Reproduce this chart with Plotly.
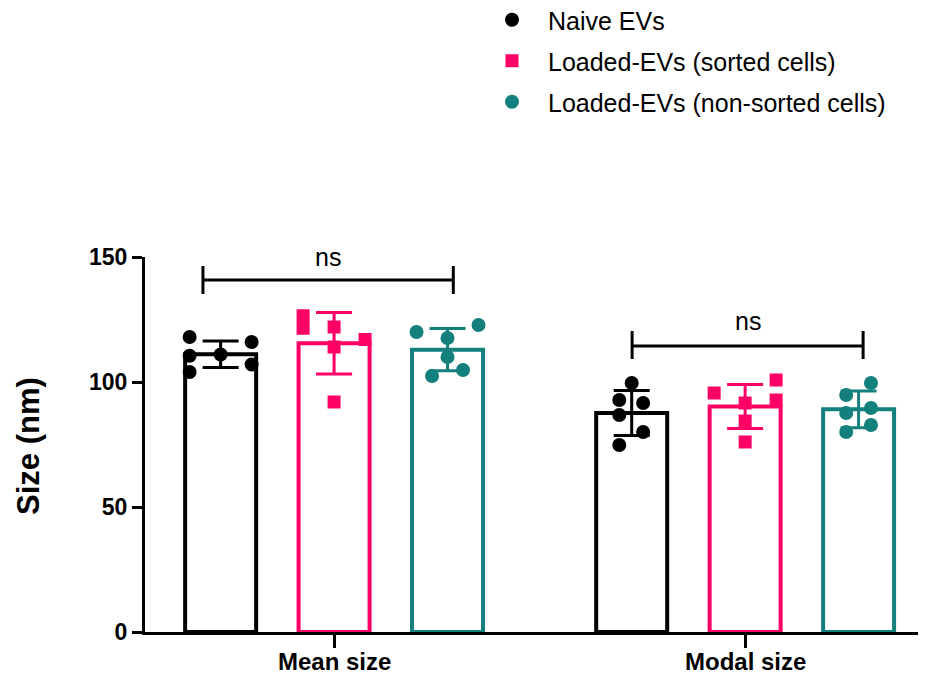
import numpy as np
import plotly.graph_objects as go

# ---------------- data ----------------
CATEGORIES = ["Mean size", "Modal size"]
SERIES = ["Naive EVs", "Loaded-EVs (sorted cells)", "Loaded-EVs (non-sorted cells)"]

naive_mean = [118, 110.5, 104, 111, 116, 107]
naive_modal = [99.6, 92.8, 91.6, 86.8, 80, 74.8]
sorted_mean = [126.5, 121.5, 122, 114, 92, 117]
sorted_modal = [95.6, 100.8, 92.8, 91.6, 84.4, 76]
nonsorted_mean = [120, 117.6, 110, 122.8, 102.4, 104.8]
nonsorted_modal = [99.6, 94.8, 89.6, 87.6, 82.8, 80]

Y_TICKS = [0, 50, 100, 150]
SIG_LABELS = ["ns", "ns"]
Y_TITLE = "Size (nm)"

# ---------------- layout / style constants ----------------
COLORS = ["#000000", "#FF0066", "#13807E"]
SYMBOLS = ["circle", "square", "circle"]
GROUP_STEP = 0.276      # distance between bars in a cluster (category units)
BAR_WIDTH = 0.1727
JIT_UNIT = 0.0754
JITTER = {
    (0, 0): [-1, -1, -1, 0, 1, 1],
    (0, 1): [0, -0.4, 0.37, -0.4, 0.37, -0.4],
    (1, 0): [-1, -1, 0, 0, 0, 1],
    (1, 1): [-1, 1, 1, 0, 0, 0],
    (2, 0): [-1, 0, 0, 1, -0.5, 0.5],
    (2, 1): [0.4, -0.4, 0.4, -0.4, 0.4, -0.4],
}
# bracket geometry: (x0, x1, y_line, y_tick_top, y_tick_bottom, label_y)
BRACKETS = [
    (-0.319, 0.290, 140.8, 146.4, 135.2, 150.2),
    (0.725, 1.287, 114.4, 120.4, 109.2, 124.4),
]
Y_RANGE = [0, 150]
FONT = "Arial, Liberation Sans, sans-serif"

# page has an 8px body margin: figure is sized so that it fills the 926x676 window
FIG_W, FIG_H = 918, 668
M_L, M_R, M_T, M_B = 137, 0, 249, 44
PLOT_W = FIG_W - M_L - M_R
PLOT_H = FIG_H - M_T - M_B

values = [
    [naive_mean, naive_modal],
    [sorted_mean, sorted_modal],
    [nonsorted_mean, nonsorted_modal],
]


def y_paper(v):
    return (v - Y_RANGE[0]) / (Y_RANGE[1] - Y_RANGE[0])


fig = go.Figure()

# bars with mean +/- SD
for g, name in enumerate(SERIES):
    xs = [c + (g - 1) * GROUP_STEP for c in range(len(CATEGORIES))]
    means = [float(np.mean(v)) for v in values[g]]
    sds = [float(np.std(v, ddof=1)) for v in values[g]]
    fig.add_trace(go.Bar(
        x=xs, y=means, width=BAR_WIDTH,
        marker=dict(color="white", line=dict(color=COLORS[g], width=4)),
        error_y=dict(type="data", array=sds, color=COLORS[g], thickness=3, width=18),
        showlegend=False, hoverinfo="skip",
    ))

# individual points
for g, name in enumerate(SERIES):
    px, py = [], []
    for c in range(len(CATEGORIES)):
        base = c + (g - 1) * GROUP_STEP
        for v, j in zip(values[g][c], JITTER[(g, c)]):
            px.append(base + j * JIT_UNIT)
            py.append(v)
    fig.add_trace(go.Scatter(
        x=px, y=py, mode="markers", name=name, legendgroup=name,
        marker=dict(color=COLORS[g], symbol=SYMBOLS[g], size=14 if SYMBOLS[g] == "circle" else 13,
                    line=dict(width=0)),
        cliponaxis=False,
    ))

# significance brackets
for (x0, x1, yl, yt, yb, ly), lab in zip(BRACKETS, SIG_LABELS):
    fig.add_trace(go.Scatter(
        x=[x0, x0, None, x0, x1, None, x1, x1],
        y=[yt, yb, None, yl, yl, None, yt, yb],
        mode="lines", line=dict(color="black", width=3),
        showlegend=False, hoverinfo="skip", cliponaxis=False,
    ))
    fig.add_annotation(x=(x0 + x1) / 2, yref="paper", y=y_paper(ly), text=lab, showarrow=False,
                       xanchor="center", yanchor="middle",
                       font=dict(family=FONT, size=25, color="black"))

# category labels
for c, cat in enumerate(CATEGORIES):
    fig.add_annotation(x=c, yref="paper", y=0, yshift=-29, text="<b>" + cat + "</b>",
                       showarrow=False, xanchor="center", yanchor="middle",
                       font=dict(family=FONT, size=24, color="black"))

# y title
fig.add_annotation(xref="paper", yref="paper", x=(20 - M_L) / PLOT_W, y=(M_T + PLOT_H - 438) / PLOT_H,
                   text="<b>" + Y_TITLE + "</b>", textangle=-90, showarrow=False,
                   xanchor="center", yanchor="middle",
                   font=dict(family=FONT, size=31, color="black"))

fig.update_layout(
    width=FIG_W, height=FIG_H,
    margin=dict(l=M_L, r=M_R, t=M_T, b=M_B, autoexpand=False),
    plot_bgcolor="white", paper_bgcolor="white",
    barmode="overlay",
    font=dict(family=FONT, color="black"),
    legend=dict(x=(468 - M_L) / PLOT_W, y=(M_T + PLOT_H + 11) / PLOT_H, xanchor="left", yanchor="top",
                font=dict(family=FONT, size=25, color="black"),
                tracegroupgap=5.5, itemwidth=62, bgcolor="rgba(0,0,0,0)"),
    xaxis=dict(range=[-0.46, 1.44], tickmode="array", tickvals=list(range(len(CATEGORIES))),
               showticklabels=False,
               showline=True, linecolor="black", linewidth=3,
               ticks="outside", ticklen=13, tickwidth=3, tickcolor="black",
               showgrid=False, zeroline=False),
    yaxis=dict(range=Y_RANGE, tickmode="array", tickvals=Y_TICKS,
               ticktext=["<b>%d</b>" % t for t in Y_TICKS],
               showline=True, linecolor="black", linewidth=3,
               ticks="outside", ticklen=10, tickwidth=3, tickcolor="black",
               showgrid=False, zeroline=False,
               tickfont=dict(family=FONT, size=23, color="black")),
)

fig.write_html("out.html")
